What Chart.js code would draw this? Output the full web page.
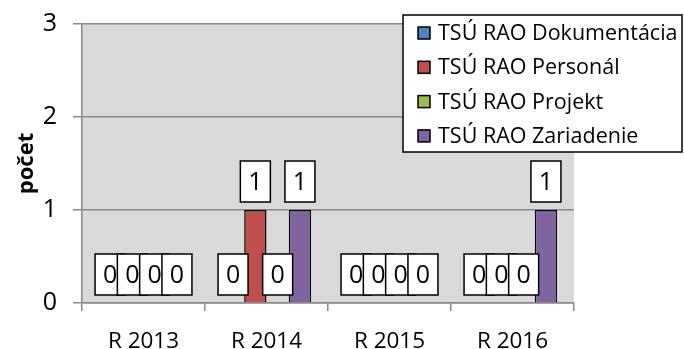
<!DOCTYPE html>
<html>
<head>
<meta charset="utf-8">
<script src="https://cdn.jsdelivr.net/npm/chart.js@4/dist/chart.umd.min.js"></script>
<style>
  html, body { margin: 0; padding: 0; background: #fff; }
  #chart { display: block; }
</style>
</head>
<body>
<canvas id="chart" width="684" height="349"></canvas>
<script>
// Počet záznamov podľa roka a typu TSÚ RAO
const years = ['R 2013', 'R 2014', 'R 2015', 'R 2016']
const dokumentacia = [0, 0, 0, 0]
const personal = [0, 1, 0, 0]
const projekt = [0, 0, 0, 0]
const zariadenie = [0, 1, 0, 1]
const yTicks = [0, 1, 2, 3]

const FONT = "'Open Sans', sans-serif"
const GRID = '#888888'

const series = [
  { label: 'TSÚ RAO Dokumentácia', data: dokumentacia, color: '#4f81bd' },
  { label: 'TSÚ RAO Personál', data: personal, color: '#c0504d' },
  { label: 'TSÚ RAO Projekt', data: projekt, color: '#9bbb59' },
  { label: 'TSÚ RAO Zariadenie', data: zariadenie, color: '#8064a2' },
]

// grey plot background
const plotBg = {
  id: 'plotBg',
  beforeDraw(chart) {
    const { ctx, chartArea: a } = chart
    ctx.save()
    ctx.fillStyle = '#d9d9d9'
    ctx.fillRect(a.left, a.top, a.right - a.left, a.bottom - a.top)
    ctx.restore()
  }
}

// boxed value labels above each bar
const valueBoxes = {
  id: 'valueBoxes',
  afterDatasetsDraw(chart) {
    const { ctx } = chart
    ctx.save()
    ctx.font = '25px ' + FONT
    ctx.textAlign = 'center'
    ctx.textBaseline = 'middle'
    chart.data.datasets.forEach((ds, i) => {
      const meta = chart.getDatasetMeta(i)
      meta.data.forEach((bar, j) => {
        const w = 30, h = 41
        const bottom = bar.y - 8
        const left = bar.x - w / 2
        ctx.fillStyle = '#fff'
        ctx.fillRect(left, bottom - h, w, h)
        ctx.lineWidth = 1.5
        ctx.strokeStyle = '#000'
        ctx.strokeRect(left, bottom - h, w, h)
        ctx.fillStyle = '#000'
        ctx.fillText(String(ds.data[j]), bar.x, bottom - h / 2 + 1)
      })
    })
    ctx.restore()
  }
}

// legend box in the upper right corner
const boxLegend = {
  id: 'boxLegend',
  afterDraw(chart) {
    const { ctx } = chart
    const x = 403, y = 15, w = 279, h = 137
    ctx.save()
    ctx.fillStyle = '#fff'
    ctx.fillRect(x, y, w, h)
    ctx.lineWidth = 1.5
    ctx.strokeStyle = '#000'
    ctx.strokeRect(x, y, w, h)
    ctx.font = '21.5px ' + FONT
    ctx.textBaseline = 'middle'
    chart.data.datasets.forEach((ds, i) => {
      const cy = y + 18 + i * 34.3
      ctx.fillStyle = ds.backgroundColor
      ctx.fillRect(x + 15, cy - 6, 12, 12)
      ctx.lineWidth = 1.5
      ctx.strokeStyle = '#000'
      ctx.strokeRect(x + 15, cy - 6, 12, 12)
      ctx.fillStyle = '#000'
      ctx.fillText(ds.label, x + 35, cy + 1)
    })
    ctx.restore()
  }
}

new Chart(document.getElementById('chart'), {
  type: 'bar',
  data: {
    labels: years,
    datasets: series.map(s => ({
      label: s.label,
      data: s.data,
      backgroundColor: s.color,
      borderColor: '#000',
      borderWidth: 1.5,
      barPercentage: 1,
      categoryPercentage: 0.725,
    }))
  },
  options: {
    responsive: false,
    animation: false,
    layout: { padding: { left: 0, right: 110, top: 24, bottom: 0 } },
    plugins: {
      legend: { display: false },
      tooltip: { enabled: false },
    },
    scales: {
      x: {
        afterFit: (s) => { s.height = 46; s.paddingLeft = 0; s.paddingRight = 0 },
        grid: { drawOnChartArea: false, drawTicks: true, tickLength: 8, color: GRID, lineWidth: 1.5 },
        border: { color: GRID, width: 1.5 },
        ticks: { color: '#000', font: { family: FONT, size: 22.5 }, padding: 17 },
      },
      y: {
        min: 0,
        max: 3,
        afterFit: (s) => { s.width = 82; s.paddingTop = 0; s.paddingBottom = 0 },
        afterBuildTicks: (s) => { s.ticks = yTicks.map(v => ({ value: v })) },
        grid: { color: GRID, lineWidth: 1.5, tickLength: 9 },
        border: { color: GRID, width: 1.5 },
        ticks: { color: '#000', font: { family: FONT, size: 25 }, padding: 16 },
        title: {
          display: true,
          text: 'počet',
          color: '#000',
          font: { family: FONT, size: 22, weight: 'bold' },
          padding: { top: 14, bottom: 0 },
        },
      }
    }
  },
  plugins: [plotBg, valueBoxes, boxLegend]
})
</script>
</body>
</html>
